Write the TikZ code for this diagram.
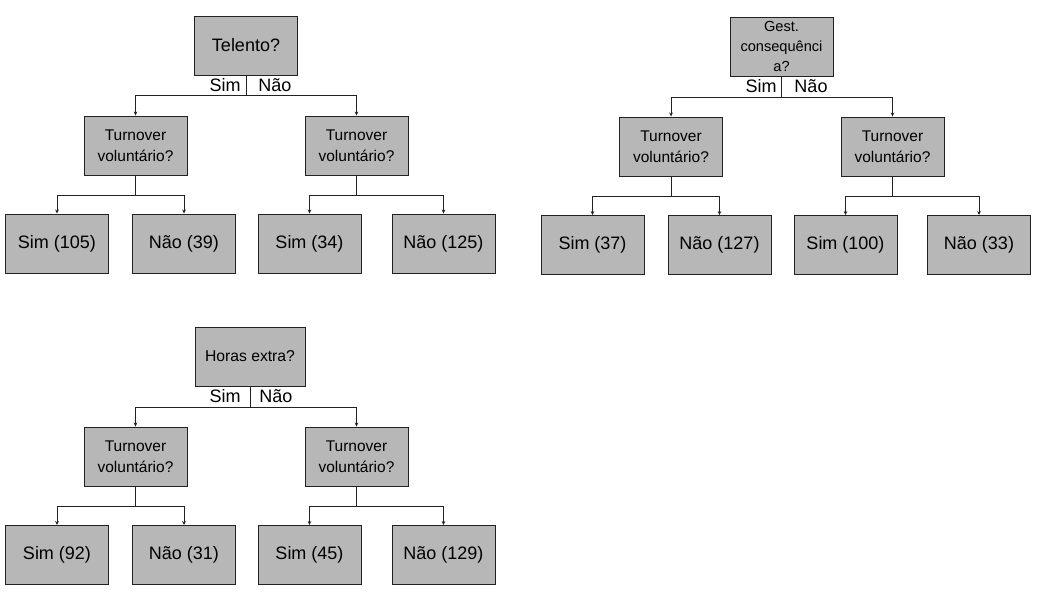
\documentclass[tikz,border=0pt]{standalone}
\usepackage{fontspec}
\setmainfont{Liberation Sans}
\usepackage{xcolor}
\usetikzlibrary{arrows.meta}
\definecolor{boxgray}{HTML}{B7B7B7}
\definecolor{linegray}{HTML}{222222}

\tikzset{
  box/.style={draw=linegray, fill=boxgray, line width=0.9pt, minimum width=103pt,
    minimum height=59pt, inner sep=0pt, align=center},
  leaf/.style={box, font=\fontsize{18}{21}\selectfont},
  ask/.style={box, font=\fontsize{15.5}{21}\selectfont},
  lbl/.style={font=\fontsize{18}{21}\selectfont, inner sep=0pt},
  link/.style={draw=linegray, line width=0.9pt},
  arr/.style={link, -{Stealth[length=4pt,width=3.6pt]}}
}

\begin{document}
\begin{tikzpicture}[x=1pt,y=-1pt]
    \useasboundingbox (0,0) rectangle (1042,597);
    % tree 1
    \node[box, font=\fontsize{18}{21}\selectfont] (r1) at (246,45.5) {Telento?};
    \node[ask] (m1) at (135.5,145.5) {Turnover\\voluntário?};
    \node[ask] (m2) at (356.5,145.5) {Turnover\\voluntário?};
    \node[leaf] (l1) at (57,243.5) {Sim (105)};
    \node[leaf] (l2) at (184,243.5) {Não (39)};
    \node[leaf] (l3) at (309.5,243.5) {Sim (34)};
    \node[leaf] (l4) at (443.5,243.5) {Não (125)};
    \node[lbl] (s1) at (225,85) {Sim};
    \node[lbl] (n1) at (275,85) {Não};
    \path (r1.south) ++(0,20) coordinate (j1);
    \path (m1.south) ++(0,20) coordinate (k1);
    \path (m2.south) ++(0,20) coordinate (k2);
    \draw[link] (r1) -- (j1);
    \draw[arr] (j1) -| (m1);
    \draw[arr] (j1) -| (m2);
    \draw[link] (m1) -- (k1);
    \draw[arr] (k1) -| (l1);
    \draw[arr] (k1) -| (l2);
    \draw[link] (m2) -- (k2);
    \draw[arr] (k2) -| (l3);
    \draw[arr] (k2) -| (l4);
    % tree 2
    \node[box, font=\fontsize{14.6}{20}\selectfont] (r2) at (781.5,46.5) {Gest.\\consequênci\\a?};
    \node[ask] (m3) at (671,146.5) {Turnover\\voluntário?};
    \node[ask] (m4) at (892.5,146.5) {Turnover\\voluntário?};
    \node[leaf] (l5) at (592.5,245) {Sim (37)};
    \node[leaf] (l6) at (719.5,245) {Não (127)};
    \node[leaf] (l7) at (845.5,245) {Sim (100)};
    \node[leaf] (l8) at (979,245) {Não (33)};
    \node[lbl] (s2) at (761,86) {Sim};
    \node[lbl] (n2) at (811,86) {Não};
    \path (r2.south) ++(0,20.5) coordinate (j2);
    \path (m3.south) ++(0,20) coordinate (k3);
    \path (m4.south) ++(0,20) coordinate (k4);
    \draw[link] (r2) -- (j2);
    \draw[arr] (j2) -| (m3);
    \draw[arr] (j2) -| (m4);
    \draw[link] (m3) -- (k3);
    \draw[arr] (k3) -| (l5);
    \draw[arr] (k3) -| (l6);
    \draw[link] (m4) -- (k4);
    \draw[arr] (k4) -| (l7);
    \draw[arr] (k4) -| (l8);
    % tree 3
    \node[box, minimum width=110pt, font=\fontsize{15.7}{21}\selectfont] (r3) at (250,356.5) {Horas extra?};
    \node[ask] (m5) at (135.5,456.5) {Turnover\\voluntário?};
    \node[ask] (m6) at (356.5,456.5) {Turnover\\voluntário?};
    \node[leaf] (l9) at (57,555) {Sim (92)};
    \node[leaf] (l10) at (184,555) {Não (31)};
    \node[leaf] (l11) at (309.5,555) {Sim (45)};
    \node[leaf] (l12) at (443.5,555) {Não (129)};
    \node[lbl] (s3) at (225,396) {Sim};
    \node[lbl] (n3) at (276,396) {Não};
    \path (r3.south) ++(0,20.5) coordinate (j3);
    \path (m5.south) ++(0,20) coordinate (k5);
    \path (m6.south) ++(0,20) coordinate (k6);
    \draw[link] (r3) -- (j3);
    \draw[arr] (j3) -| (m5);
    \draw[arr] (j3) -| (m6);
    \draw[link] (m5) -- (k5);
    \draw[arr] (k5) -| (l9);
    \draw[arr] (k5) -| (l10);
    \draw[link] (m6) -- (k6);
    \draw[arr] (k6) -| (l11);
    \draw[arr] (k6) -| (l12);
\end{tikzpicture}
\end{document}
